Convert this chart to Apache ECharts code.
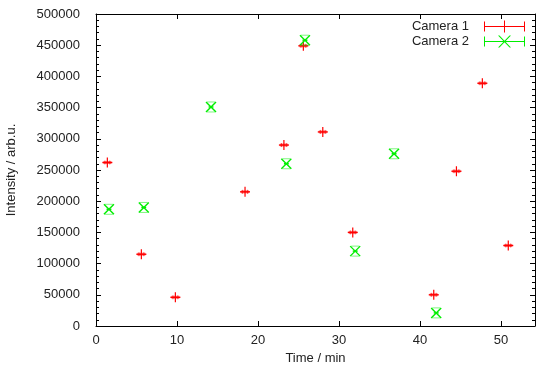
<!DOCTYPE html>
<html>
<head>
<meta charset="utf-8">
<script src="https://cdn.jsdelivr.net/npm/echarts@6/dist/echarts.min.js"></script>
<style>
  html, body { margin: 0; padding: 0; background: #fff; }
  #chart { width: 540px; height: 369px; }
</style>
</head>
<body>
<div id="chart"></div>
<script>
// Camera 1 (red +)
var cam1Time = [1.4, 5.6, 9.8, 18.4, 23.2, 25.6, 28.0, 31.7, 41.7, 44.5, 47.7, 50.9];
var cam1Int = [262000, 115000, 46000, 215000, 290000, 449000, 311000, 150000, 50000, 248000, 389000, 129000];
// Camera 2 (green x)
var cam2Time = [1.6, 5.9, 14.2, 23.5, 25.8, 32.0, 36.8, 42.0];
var cam2Int = [187000, 190000, 351000, 260000, 458000, 120000, 276000, 21000];
// tiny horizontal error on time
var xErr = 0.3;

var seriesNames = ['Camera 1', 'Camera 2'];
var seriesColors = ['#ff0000', '#00ee00'];

function pairs(xs, ys) {
  var out = [];
  for (var i = 0; i < xs.length; i++) out.push([xs[i], ys[i]]);
  return out;
}

function renderPlus(params, api) {
  var p = api.coord([api.value(0), api.value(1)]);
  var l = api.coord([api.value(0) - xErr, api.value(1)]);
  var r = api.coord([api.value(0) + xErr, api.value(1)]);
  var c = api.visual('color');
  var s = 5;
  return {
    type: 'group',
    children: [
      { type: 'line', shape: { x1: p[0] - s, y1: p[1], x2: p[0] + s, y2: p[1] }, style: { stroke: c, lineWidth: 1.4 } },
      { type: 'line', shape: { x1: p[0], y1: p[1] - s, x2: p[0], y2: p[1] + s }, style: { stroke: c, lineWidth: 1.2 } },
      { type: 'line', shape: { x1: l[0], y1: p[1] - 2, x2: l[0], y2: p[1] + 2 }, style: { stroke: c, lineWidth: 1, opacity: 0.6 } },
      { type: 'line', shape: { x1: r[0], y1: p[1] - 2, x2: r[0], y2: p[1] + 2 }, style: { stroke: c, lineWidth: 1, opacity: 0.6 } },
      { type: 'line', shape: { x1: p[0] - s + 1, y1: p[1], x2: p[0] + s - 1, y2: p[1] }, style: { stroke: c, lineWidth: 3, opacity: 0.5 } }
    ]
  };
}

function renderCross(params, api) {
  var p = api.coord([api.value(0), api.value(1)]);
  var l = api.coord([api.value(0) - xErr, api.value(1)]);
  var r = api.coord([api.value(0) + xErr, api.value(1)]);
  var c = api.visual('color');
  var s = 5;
  return {
    type: 'group',
    children: [
      { type: 'line', shape: { x1: p[0] - s, y1: p[1] - s, x2: p[0] + s, y2: p[1] + s }, style: { stroke: c, lineWidth: 1.4 } },
      { type: 'line', shape: { x1: p[0] - s, y1: p[1] + s, x2: p[0] + s, y2: p[1] - s }, style: { stroke: c, lineWidth: 1.4 } },
      { type: 'line', shape: { x1: l[0], y1: p[1], x2: r[0], y2: p[1] }, style: { stroke: c, lineWidth: 1.5 } },
      { type: 'line', shape: { x1: p[0] - 4, y1: p[1] - s, x2: p[0] + 4, y2: p[1] - s }, style: { stroke: c, lineWidth: 1, opacity: 0.5 } },
      { type: 'line', shape: { x1: p[0] - 4, y1: p[1] + s, x2: p[0] + 4, y2: p[1] + s }, style: { stroke: c, lineWidth: 1, opacity: 0.5 } }
    ]
  };
}

// legend icons: error bar line with caps plus the point symbol (41 x 12 box)
var iconPlus = 'path://M0,1h1v10h-1zM40,1h1v10h-1zM0,5.5h41v1h-41zM20,0h1v12h-1z';
var iconCross = 'path://M0,1h1v10h-1zM40,1h1v10h-1zM0,5.5h41v1h-41zM14,0L15.5,0L27,12L25.5,12zM25.5,0L27,0L15.5,12L14,12z';

var fontFam = '"Liberation Sans", Arial, Helvetica, sans-serif';
var txt = { color: '#222', fontFamily: fontFam, fontSize: 13 };

var chart = echarts.init(document.getElementById('chart'));

var option = {
  animation: false,
  backgroundColor: '#fff',
  textStyle: { fontFamily: fontFam },
  grid: { left: 96, right: 5, top: 14, bottom: 43, outerBoundsMode: 'none', containLabel: false },
  legend: {
    orient: 'vertical',
    right: 10,
    top: 15,
    align: 'right',
    itemWidth: 41,
    itemHeight: 12,
    itemGap: 2,
    textStyle: { color: '#222', fontFamily: fontFam, fontSize: 13, padding: [0, 10, 0, 0] },
    data: [
      { name: seriesNames[0], icon: iconPlus, itemStyle: { color: seriesColors[0] } },
      { name: seriesNames[1], icon: iconCross, itemStyle: { color: seriesColors[1] } }
    ]
  },
  xAxis: [
    {
      type: 'value',
      min: 0,
      max: 54.2,
      interval: 10,
      name: 'Time / min',
      nameLocation: 'middle',
      nameGap: 25,
      nameTextStyle: txt,
      axisLine: { onZero: false, lineStyle: { color: '#000', width: 1 } },
      axisTick: { inside: true, length: 5, lineStyle: { color: '#000' } },
      axisLabel: { margin: 8, color: '#222', fontFamily: fontFam, fontSize: 13, showMaxLabel: false },
      splitLine: { show: false }
    },
    {
      type: 'value',
      position: 'top',
      min: 0,
      max: 54.2,
      interval: 10,
      axisLine: { onZero: false, lineStyle: { color: '#000', width: 1 } },
      axisTick: { inside: true, length: 5, lineStyle: { color: '#000' } },
      axisLabel: { show: false },
      splitLine: { show: false }
    }
  ],
  yAxis: [
    {
      type: 'value',
      min: 0,
      max: 500000,
      interval: 50000,
      name: 'Intensity / arb.u.',
      nameLocation: 'middle',
      nameRotate: 90,
      nameGap: 78,
      nameTextStyle: txt,
      axisLine: { onZero: false, lineStyle: { color: '#000', width: 1 } },
      axisTick: { inside: true, length: 5, lineStyle: { color: '#000' } },
      minorTick: { show: true, splitNumber: 5, length: 3, lineStyle: { color: '#000' } },
      axisLabel: { margin: 16, color: '#222', fontFamily: fontFam, fontSize: 13, formatter: function (v) { return String(v); } },
      splitLine: { show: false }
    },
    {
      type: 'value',
      position: 'right',
      min: 0,
      max: 500000,
      interval: 50000,
      axisLine: { onZero: false, lineStyle: { color: '#000', width: 1 } },
      axisTick: { inside: true, length: 5, lineStyle: { color: '#000' } },
      minorTick: { show: true, splitNumber: 5, length: 3, lineStyle: { color: '#000' } },
      axisLabel: { show: false },
      splitLine: { show: false }
    }
  ],
  series: [
    {
      name: seriesNames[0],
      type: 'custom',
      xAxisIndex: 0,
      yAxisIndex: 0,
      itemStyle: { color: seriesColors[0] },
      renderItem: renderPlus,
      encode: { x: 0, y: 1 },
      data: pairs(cam1Time, cam1Int)
    },
    {
      name: seriesNames[1],
      type: 'custom',
      xAxisIndex: 0,
      yAxisIndex: 0,
      itemStyle: { color: seriesColors[1] },
      renderItem: renderCross,
      encode: { x: 0, y: 1 },
      data: pairs(cam2Time, cam2Int)
    }
  ]
};

chart.setOption(option);
</script>
</body>
</html>
